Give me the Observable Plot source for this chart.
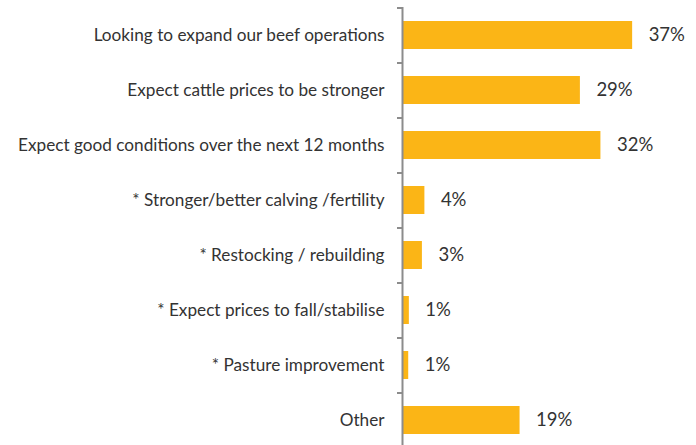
<!DOCTYPE html>
<html>
<head>
<meta charset="utf-8">
<script src="https://cdn.jsdelivr.net/npm/d3@7"></script>
<script src="https://cdn.jsdelivr.net/npm/@observablehq/plot@0.6"></script>
<style>
  html, body { margin: 0; padding: 0; background: #fff; }
  #chart svg { display: block; }
</style>
</head>
<body>
<div id="chart"></div>
<script>
const categories = [
  "Looking to expand our beef operations",
  "Expect cattle prices to be stronger",
  "Expect good conditions over the next 12 months",
  "* Stronger/better calving /fertility",
  "* Restocking / rebuilding",
  "* Expect prices to fall/stabilise",
  "* Pasture improvement",
  "Other"
];
const values = [37.0, 28.6, 31.9, 3.6, 3.2, 1.1, 1.0, 18.9];
const valueLabels = ["37%", "29%", "32%", "4%", "3%", "1%", "1%", "19%"];

const data = categories.map((c, i) => ({cat: c, value: values[i], label: valueLabels[i]}));

const font = "Lato, 'Open Sans', sans-serif";
const chart = Plot.plot({
  width: 696,
  height: 445,
  marginLeft: 402,
  marginRight: 0,
  marginTop: 7,
  marginBottom: 0,
  style: {fontFamily: font, background: "#fff"},
  x: {domain: [0, 40], range: [402, 650.8], axis: null},
  y: {domain: categories, range: [7.5, 447.5], paddingInner: 0.5, paddingOuter: 0.25, label: null},
  marks: [
    Plot.barX(data, {x: "value", y: "cat", fill: "#FBB516"}),
    Plot.text(data, {x: "value", y: "cat", text: "label", dx: 16, textAnchor: "start",
      fontSize: 18.5, fill: "#333333"}),
    Plot.ruleX([0], {stroke: "#8C8C8C", strokeWidth: 2}),
    Plot.axisY({tickSize: 5, tickFormat: null, dy: -27.5, stroke: "#8C8C8C", strokeWidth: 2, label: null}),
    Plot.axisY({tickSize: 0, tickPadding: 18, fontSize: 17.2, fill: "#333333", label: null})
  ]
});
document.getElementById("chart").appendChild(chart);
</script>
</body>
</html>
